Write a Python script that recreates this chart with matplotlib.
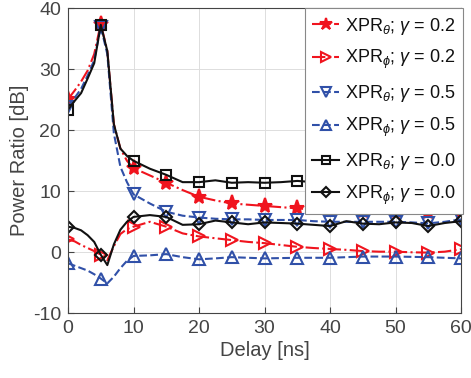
import matplotlib
matplotlib.use("Agg")
import matplotlib.pyplot as plt
import numpy as np

plt.rcParams['font.family'] = ['Liberation Sans', 'DejaVu Sans']
plt.rcParams['mathtext.fontset'] = 'custom'
plt.rcParams['mathtext.rm'] = 'Liberation Sans'
plt.rcParams['mathtext.it'] = 'Liberation Sans:italic'
plt.rcParams['axes.unicode_minus'] = False

delay = [0, 1, 2, 3, 4, 5, 6, 7, 8, 9, 10, 12.5, 15, 17.5, 20, 22.5, 25, 27.5, 30,
         32.5, 35, 37.5, 40, 42.5, 45, 47.5, 50, 52.5, 55, 57.5, 60]

xpr_theta_g02 = [25.1, 26.5, 28.0, 29.8, 32.5, 37.5, 33.0, 21.0, 17.0, 15.0, 13.8, 12.6, 11.4,
                 10.2, 9.1, 8.5, 8.0, 7.8, 7.6, 7.4, 7.2, 7.0, 6.9, 6.8, 6.8, 6.7, 6.7, 6.6,
                 6.6, 6.5, 6.6]
xpr_phi_g02 = [2.1, 1.8, 1.2, 0.7, 0.2, -0.4, -1.3, 1.0, 3.0, 3.8, 4.2, 5.0, 4.2, 3.1, 2.6,
               2.3, 2.0, 1.7, 1.5, 1.2, 0.9, 0.7, 0.55, 0.4, 0.2, 0.1, 0.1, 0.0, -0.05, 0.1, 0.5]
xpr_theta_g05 = [23.9, 25.3, 26.8, 29.0, 31.5, 37.0, 32.5, 19.5, 14.0, 11.5, 9.5, 8.0, 6.65,
                 6.0, 5.7, 5.5, 5.4, 5.4, 5.3, 5.3, 5.3, 5.1, 5.0, 5.0, 5.0, 5.0, 5.0, 4.9,
                 4.75, 5.0, 5.4]
xpr_phi_g05 = [-1.8, -2.2, -2.6, -3.0, -3.6, -4.3, -5.1, -4.0, -2.6, -1.4, -0.6, -0.5, -0.3,
               -0.8, -1.15, -1.0, -0.8, -0.9, -1.0, -0.95, -0.9, -0.9, -0.9, -0.8, -0.7, -0.7,
               -0.7, -0.75, -0.8, -0.9, -1.0]
xpr_theta_g00 = [23.4, 24.8, 26.1, 28.5, 31.0, 37.3, 33.0, 21.0, 17.0, 15.8, 15.0, 13.7, 12.7,
                 11.5, 11.5, 11.8, 11.4, 11.5, 11.4, 11.5, 11.7, 11.5, 11.5, 11.4, 11.5, 11.4,
                 11.5, 11.4, 11.3, 11.3, 11.3]
xpr_phi_g00 = [4.2, 4.0, 3.6, 2.8, 1.7, -0.4, -2.1, 1.3, 3.7, 5.0, 5.8, 6.1, 5.8, 4.5, 4.6,
               5.2, 4.9, 4.6, 4.9, 4.8, 4.7, 4.5, 4.3, 5.1, 4.7, 4.6, 4.9, 4.8, 4.3, 4.8, 5.1]

labels = [r'XPR$_{\theta}$; $\gamma$ = 0.2', r'XPR$_{\phi}$; $\gamma$ = 0.2',
          r'XPR$_{\theta}$; $\gamma$ = 0.5', r'XPR$_{\phi}$; $\gamma$ = 0.5',
          r'XPR$_{\theta}$; $\gamma$ = 0.0', r'XPR$_{\phi}$; $\gamma$ = 0.0']
xticks = [0, 10, 20, 30, 40, 50, 60]
yticks = [-10, 0, 10, 20, 30, 40]

red = '#F0141E'
blue = '#3050A8'
black = '#111111'

fig = plt.figure(figsize=(4.71, 3.78), dpi=100)
ax = fig.add_axes([0.1444, 0.1712, 0.8344, 0.8068])

mk = [i for i, d in enumerate(delay) if d % 5 == 0]
series = [
    (xpr_theta_g02, red, '-.', '*', red, 11),
    (xpr_phi_g02, red, '-.', '>', 'none', 8),
    (xpr_theta_g05, blue, '--', 'v', 'none', 8),
    (xpr_phi_g05, blue, '--', '^', 'none', 8),
    (xpr_theta_g00, black, '-', 's', 'none', 7),
    (xpr_phi_g00, black, '-', 'D', 'none', 6.5),
]
for (vals, c, ls, m, fc, ms), lab in zip(series, labels):
    ax.plot(delay, vals, color=c, linestyle=ls, linewidth=1.5, marker=m,
            markerfacecolor=fc, markeredgecolor=c, markeredgewidth=1.5,
            markersize=ms, markevery=mk, label=lab)

ax.set_xlim(0, 60)
ax.set_ylim(-10, 40)
ax.set_xticks(xticks)
ax.set_yticks(yticks)
ax.grid(True, color='#DDDDDD', linewidth=0.7)
ax.tick_params(direction='in', labelsize=14, colors='#444444', length=4, pad=5)
for s in ax.spines.values():
    s.set_color('#444444')
ax.set_xlabel('Delay [ns]', fontsize=14.5, color='#444444', labelpad=3)
ax.set_ylabel('Power Ratio [dB]', fontsize=14.5, color='#444444', labelpad=3)

leg = ax.legend(loc='upper right', bbox_to_anchor=(1.004, 1.0), fontsize=13,
                handlelength=1.5, handletextpad=0.3, borderaxespad=0.0,
                labelspacing=0.65, fancybox=False, framealpha=1, markerscale=0.85,
                edgecolor='#888888', borderpad=0.4)
leg.get_frame().set_linewidth(0.8)
for t in leg.get_texts():
    t.set_color('#111111')

fig.savefig('out.png', dpi=100)
